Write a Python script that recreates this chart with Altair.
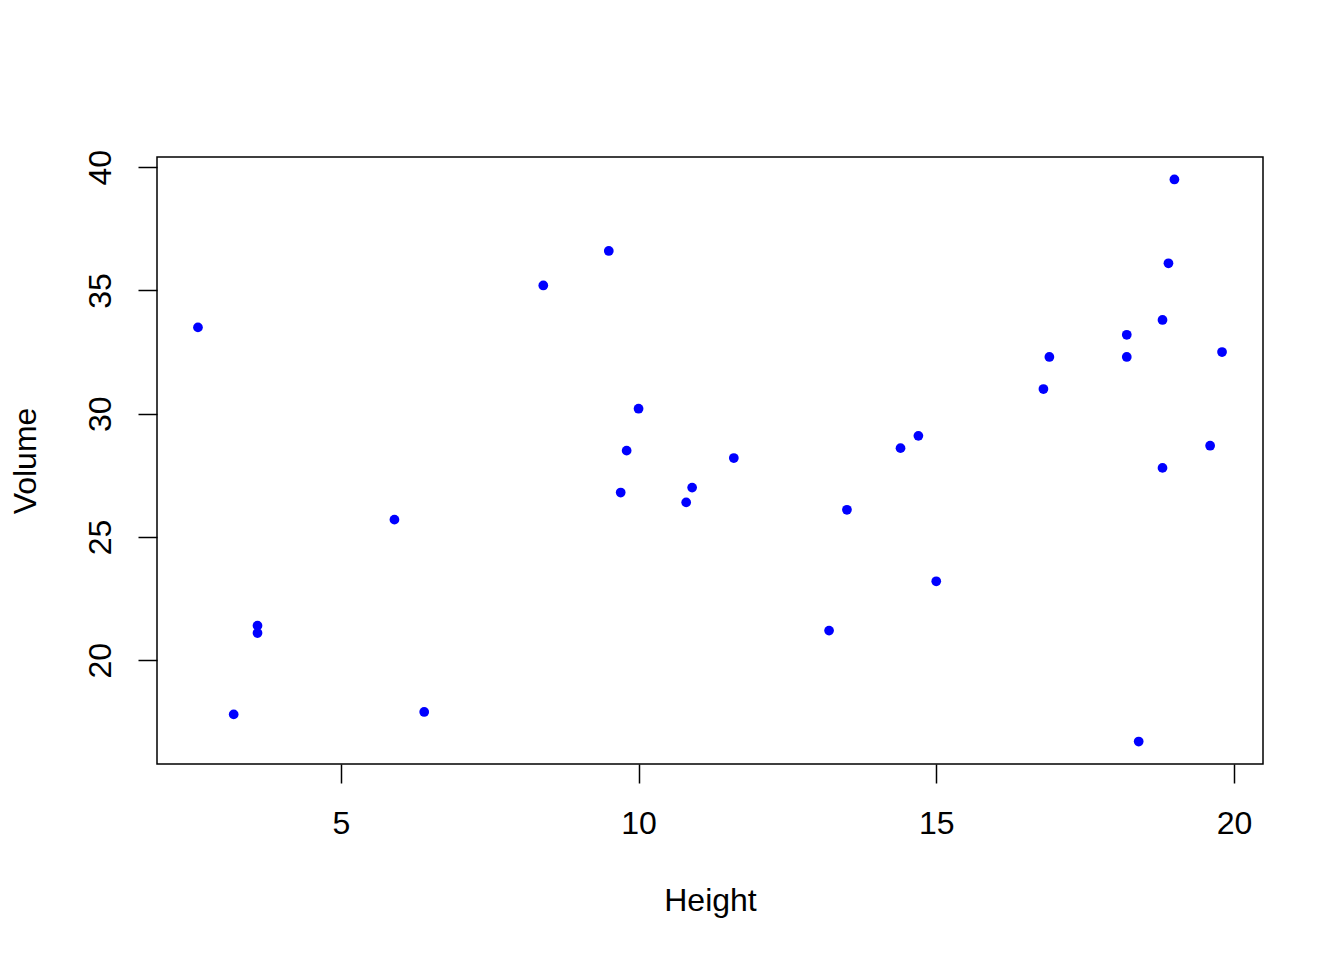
import altair as alt
import pandas as pd

height = [2.6, 3.2, 3.6, 3.6, 5.9, 6.4, 8.4, 9.5, 9.7, 9.8, 10.0, 10.8, 10.9, 11.6, 13.2,
          13.5, 14.4, 14.7, 15.0, 16.8, 16.9, 18.2, 18.2, 18.4, 18.8, 18.8, 18.9, 19.0, 19.6, 19.8]
volume = [33.5, 17.8, 21.4, 21.1, 25.7, 17.9, 35.2, 36.6, 26.8, 28.5, 30.2, 26.4, 27.0, 28.2, 21.2,
          26.1, 28.6, 29.1, 23.2, 31.0, 32.3, 33.2, 32.3, 16.7, 33.8, 27.8, 36.1, 39.5, 28.7, 32.5]
x_ticks = [5, 10, 15, 20]
y_ticks = [20, 25, 30, 35, 40]

df = pd.DataFrame({"Height": height, "Volume": volume})

def padded(vals):
    lo, hi = min(vals), max(vals)
    r = hi - lo
    return [lo - 0.04 * r, hi + 0.04 * r]

FONT = "Liberation Sans"

chart = alt.Chart(df).mark_circle(size=95, color="#0000FF", opacity=1).encode(
    x=alt.X("Height:Q",
            scale=alt.Scale(domain=padded(height), nice=False, zero=False),
            axis=alt.Axis(values=x_ticks, grid=False, domain=False, tickSize=19,
                          tickColor="black", tickWidth=1.5, labelColor="black",
                          labelFont=FONT, labelFontSize=32, labelPadding=25,
                          labelBaseline="top", labelFlush=False,
                          title="Height", titleFont=FONT, titleFontSize=32,
                          titleFontWeight="normal", titleColor="black",
                          titleBaseline="alphabetic", titleY=146)),
    y=alt.Y("Volume:Q",
            scale=alt.Scale(domain=padded(volume), nice=False, zero=False),
            axis=alt.Axis(values=y_ticks, grid=False, domain=False, tickSize=19,
                          tickColor="black", tickWidth=1.5, labelColor="black",
                          labelFont=FONT, labelFontSize=32, labelPadding=28,
                          labelAngle=270, labelAlign="center", labelBaseline="alphabetic",
                          labelFlush=False,
                          title="Volume", titleFont=FONT, titleFontSize=32,
                          titleFontWeight="normal", titleColor="black",
                          titleAngle=270, titleBaseline="alphabetic",
                          titleX=-122, titleY=303.5)),
).properties(
    width=1106, height=607,
    background="white",
    autosize=alt.AutoSizeParams(type="none"),
    padding={"left": 149, "top": 149, "right": 73, "bottom": 188},
).configure_view(
    stroke="black", strokeWidth=1.5
)

chart.save("out.html", embed_options={"renderer": "svg", "actions": False})
